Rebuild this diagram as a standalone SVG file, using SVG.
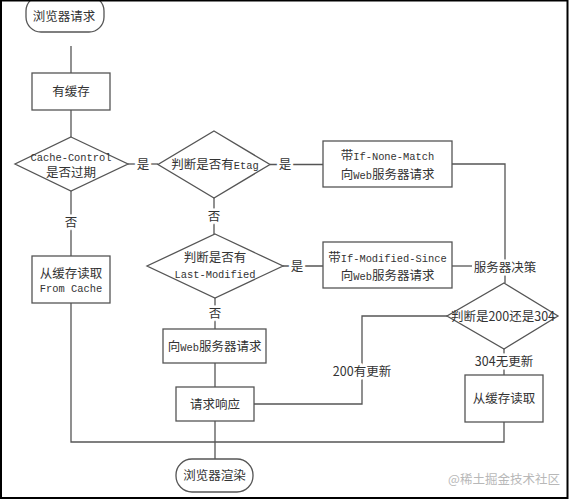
<svg xmlns="http://www.w3.org/2000/svg" width="572" height="501" viewBox="0 0 572 501">
<style>
.s{fill:#fff;stroke:#555;stroke-width:1.3}
.t{font-family:"Noto Sans CJK SC","Liberation Serif",sans-serif;font-size:12.5px;fill:#333;text-anchor:middle}
.a{text-anchor:start}
.m{font-family:"Liberation Mono",monospace;font-size:10.4px}
.c{fill:none;stroke:#555;stroke-width:1.3}
.l{paint-order:stroke;stroke:#fff;stroke-width:5px}
.w{font-family:"Noto Sans CJK SC",sans-serif;font-size:12.5px;fill:#b8b8b8;text-anchor:middle}
</style>
<rect x="0" y="0" width="572" height="501" fill="#fff"/>
<g id="connectors">
<path class="c" d="M71 46V73"/>
<path class="c" d="M71 110V137"/>
<path class="c" d="M71 191V256"/>
<path class="c" d="M128 164H158"/>
<path class="c" d="M270 164.5H323"/>
<path class="c" d="M214 198V234"/>
<path class="c" d="M283 266H323"/>
<path class="c" d="M452 164H505V262"/>
<path class="c" d="M452 266H472"/>
<path class="c" d="M505 274V283"/>
<path class="c" d="M447 316H362V404H254"/>
<path class="c" d="M504 349V375"/>
<path class="c" d="M504 422V442H71V303"/>
<path class="c" d="M215 298V329"/>
<path class="c" d="M215 363V387"/>
<path class="c" d="M215 421V459"/>
<text class="t l" x="71" y="227">否</text>
<text class="t l" x="143" y="168.5">是</text>
<text class="t l" x="285" y="169">是</text>
<text class="t l" x="214" y="220.5">否</text>
<text class="t l" x="297" y="270.5">是</text>
<text class="t l" x="505" y="271.5">服务器决策</text>
<text class="t l" x="362" y="375.5">200有更新</text>
<text class="t l" x="504" y="365.5">304无更新</text>
<text class="t l" x="215" y="317.5">否</text>
</g>
<g id="start">
<rect class="s" x="26" y="-4" width="78" height="36" rx="15"/>
<text class="t" x="64" y="21">浏览器请求</text>
</g>
<g id="hasCache">
<rect class="s" x="32" y="73" width="78" height="37"/>
<text class="t" x="71" y="96">有缓存</text>
</g>
<g id="cacheControl">
<polygon class="s" points="71,137 128,164 71,191 15,164"/>
<text class="t m" x="71" y="160.5">Cache-Control</text>
<text class="t" x="71" y="177">是否过期</text>
</g>
<g id="etag">
<polygon class="s" points="214,131 270,164.5 214,198 158,164.5"/>
<text class="t a" x="171.2" y="168.5">判断是否有</text>
<text class="t a m" x="233.7" y="168.5">Etag</text>
</g>
<g id="noneMatch">
<rect class="s" x="323" y="141" width="129" height="46"/>
<text class="t a" x="340.7" y="160">带</text>
<text class="t a m" x="353.2" y="160">If-None-Match</text>
<text class="t a" x="340.7" y="178.5">向</text>
<text class="t a m" x="353.2" y="178.5">Web</text>
<text class="t a" x="371.9" y="178.5">服务器请求</text>
</g>
<g id="lastModified">
<polygon class="s" points="215,234 283,266 215,298 147,266"/>
<text class="t" x="215" y="261.5">判断是否有</text>
<text class="t m" x="215" y="277.5">Last-Modified</text>
</g>
<g id="modifiedSince">
<rect class="s" x="323" y="242" width="129" height="46"/>
<text class="t a" x="328.2" y="261.5">带</text>
<text class="t a m" x="340.7" y="261.5">If-Modified-Since</text>
<text class="t a" x="340.7" y="280">向</text>
<text class="t a m" x="353.2" y="280">Web</text>
<text class="t a" x="371.9" y="280">服务器请求</text>
</g>
<g id="status">
<polygon class="s" points="504,283 558,316 504,349 447,316"/>
<text class="t" x="503" y="320.5">判断是200还是304</text>
</g>
<g id="fromCache">
<rect class="s" x="32" y="256" width="78" height="47"/>
<text class="t" x="71" y="277.5">从缓存读取</text>
<text class="t m" x="71" y="291.5">From Cache</text>
</g>
<g id="webRequest">
<rect class="s" x="163" y="329" width="103" height="34"/>
<text class="t a" x="167.7" y="350.5">向</text>
<text class="t a m" x="180.2" y="350.5">Web</text>
<text class="t a" x="198.9" y="350.5">服务器请求</text>
</g>
<g id="response">
<rect class="s" x="176" y="387" width="78" height="34"/>
<text class="t" x="215" y="408.5">请求响应</text>
</g>
<g id="readCache">
<rect class="s" x="465" y="375" width="78" height="47"/>
<text class="t" x="504" y="402.5">从缓存读取</text>
</g>
<g id="render">
<rect class="s" x="176" y="459" width="77" height="33" rx="16"/>
<text class="t" x="214.5" y="480">浏览器渲染</text>
</g>
<text class="w" x="504" y="484">@稀土掘金技术社区</text>
<rect x="1" y="0.5" width="566.5" height="497.5" fill="none" stroke="#000" stroke-width="2"/>
</svg>
